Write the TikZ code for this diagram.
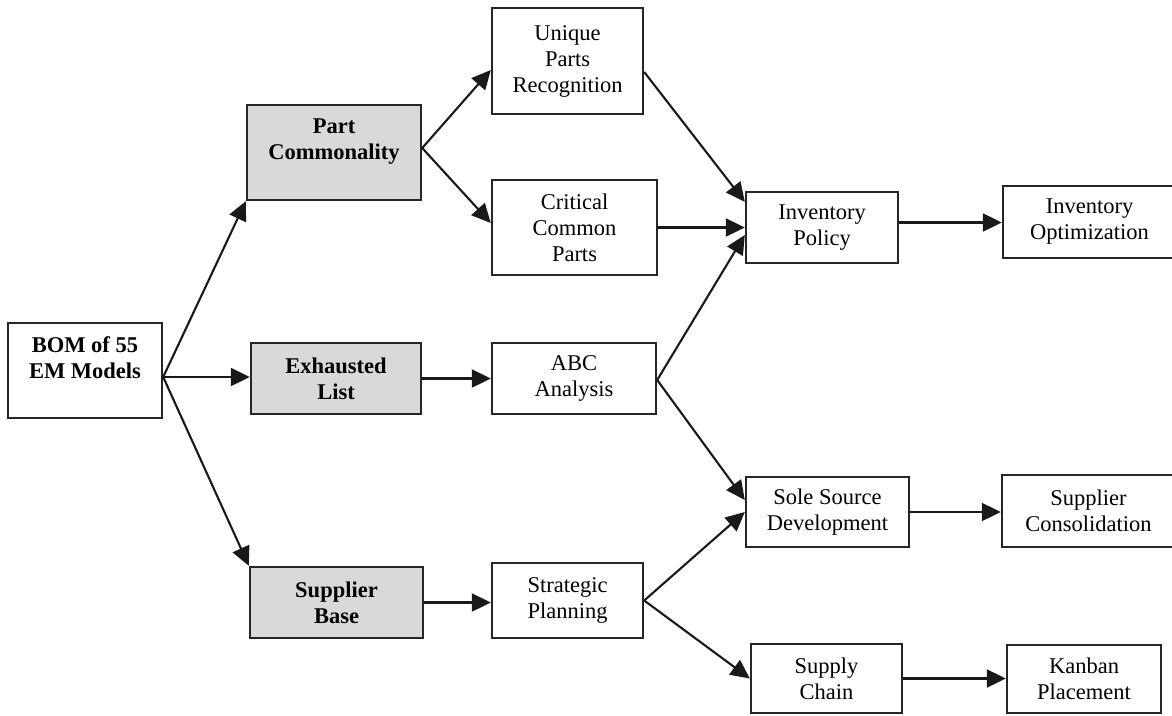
\documentclass[tikz,border=0pt]{standalone}
\usepackage{fontspec}
\setmainfont{Liberation Serif}
\usetikzlibrary{arrows.meta}
\begin{document}
\begin{tikzpicture}[x=1pt,y=-1pt,
  box/.style 2 args={draw=black!85, line width=2.4pt, inner sep=0pt, align=center,
    font=\fontsize{22.5}{26}\selectfont, minimum width=#1, minimum height=#2},
  shaded/.style={fill=black!15, font=\fontsize{22.5}{26}\selectfont\bfseries},
  arr/.style={line width=2.1pt, draw=black!90, -{Triangle[length=19pt,width=18pt]}}
]
\useasboundingbox (0,0) rectangle (1172,715);
\clip (0,0) rectangle (1172,715);

% source and first-level boxes
\node[box={154}{95}] (bom) at (85,370.5) {\textbf{BOM of 55}\\\textbf{EM Models}\\\mbox{}};
\node[box={174}{95}, shaded] (pc) at (334,152.5) {Part\\Commonality\\\mbox{}};
\node[box={170}{71}, shaded] (ex) at (336,378.5) {Exhausted\\List};
\node[box={173}{71}, shaded] (sb) at (336.5,602.5) {Supplier\\Base};

% second level
\node[box={151}{106}] (uniq) at (567.5,61) {Unique\\Parts\\Recognition};
\node[box={165}{95}] (crit) at (574.5,227.5) {Critical\\Common\\Parts};
\node[box={164}{71}] (abc) at (574,378.5) {ABC\\Analysis};
\node[box={151}{75}] (strat) at (567.5,600.5) {Strategic\\Planning};

% third level
\node[box={152}{71}] (ip) at (822,227.5) {Inventory\\Policy};
\node[box={163}{70}] (ss) at (827.5,512) {Sole Source\\Development};
\node[box={151}{69}] (sup) at (826.5,678.5) {Supply\\Chain};

% outcomes
\node[box={173}{72}] (io) at (1089.5,222) {Inventory\\Optimization};
\node[box={173}{72}] (sc) at (1088.5,511) {Supplier\\Consolidation};
\node[box={154}{68}] (kb) at (1084,679) {Kanban\\Placement};

% fan-out points
\coordinate (bomout) at ([yshift=-6.5pt]bom.east);
\coordinate (pcout) at ([yshift=4.5pt]pc.east);
\coordinate (abcout) at ([yshift=-1.5pt]abc.east);

\draw[arr] (bomout) -- (pc.south west);
\draw[arr] (bomout) -- (bomout -| ex.west);
\draw[arr] (bomout) -- (sb.north west);

\draw[arr] (pcout) -- ([yshift=-9pt]uniq.west);
\draw[arr] (pcout) -- ([yshift=4.5pt]crit.west);
\draw[arr] (ex.east) -- (ex.east -| abc.west);
\draw[arr] (sb.east) -- (sb.east -| strat.west);

\draw[arr] ([yshift=-11pt]uniq.east) -- ([yshift=-11pt]ip.north west);
\draw[arr] (crit.east) -- (ip.west);
\draw[arr] (abcout) -- ([yshift=-7.5pt]ip.west);
\draw[arr] (abcout) -- ([yshift=12pt]ss.west);
\draw[arr] (strat.east) -- (ss.west);
\draw[arr] (strat.east) -- (sup.west);

\draw[arr] ([yshift=5pt]ip.east) -- ([yshift=5pt]ip.east -| io.west);
\draw[arr] (ss.east) -- (ss.east -| sc.west);
\draw[arr] (sup.east) -- (sup.east -| kb.west);
\end{tikzpicture}
\end{document}
